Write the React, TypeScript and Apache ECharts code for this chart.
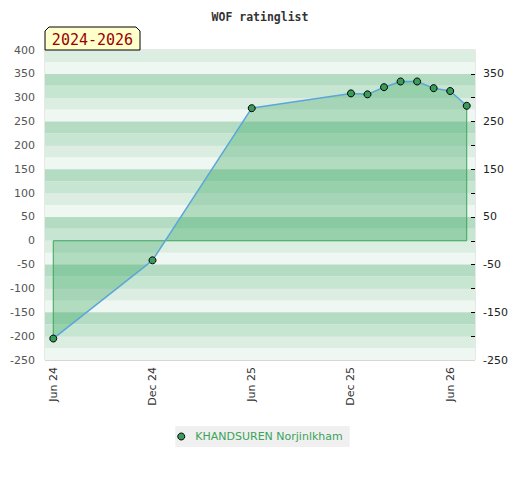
import React, { useEffect, useRef } from "react";
import * as echarts from "echarts";

const months = [
  "Jun 24", "Jul 24", "Aug 24", "Sep 24", "Oct 24", "Nov 24",
  "Dec 24", "Jan 25", "Feb 25", "Mar 25", "Apr 25", "May 25",
  "Jun 25", "Jul 25", "Aug 25", "Sep 25", "Oct 25", "Nov 25",
  "Dec 25", "Jan 26", "Feb 26", "Mar 26", "Apr 26", "May 26",
  "Jun 26", "Jul 26",
];
const pointMonths = [
  "Jun 24", "Dec 24", "Jun 25", "Dec 25", "Jan 26", "Feb 26",
  "Mar 26", "Apr 26", "May 26", "Jun 26", "Jul 26",
];
const ratings = [-205, -41, 278, 309, 307, 322, 334, 334, 320, 314, 283];
const playerName = "KHANDSUREN Norjinlkham";
const titleText = "WOF ratinglist";
const periodText = "2024-2026";
const rightTicks = [-200, -150, -100, -50, 0, 50, 100, 150, 200, 250, 300, 350];
const rightLabels = [-250, -150, -50, 50, 150, 250, 350];
const bandColors = ["#eef7f1", "#dcede2", "#c7e6d2", "#b3dcc3"];

export default function App() {
  const ref = useRef<HTMLDivElement>(null);
  useEffect(() => {
    if (!ref.current) return;
    const chart = echarts.init(ref.current, null, { renderer: "svg" });
    const pts = pointMonths.map((m, i) => [months.indexOf(m), ratings[i]]);
    const first = pts[0];
    const last = pts[pts.length - 1];
    const outline = [
      [first[0], first[1]],
      [first[0], 0],
      [last[0], 0],
      [last[0], last[1]],
    ];
    const font = "DejaVu Sans";
    chart.setOption({
      animation: false,
      backgroundColor: "#ffffff",
      title: {
        text: titleText,
        left: "center",
        top: 6,
        textStyle: {
          fontFamily: "DejaVu Sans Mono",
          fontWeight: "bold",
          fontSize: 11.5,
          color: "#333",
        },
      },
      grid: {
        left: 45,
        right: 45,
        top: 50,
        bottom: 120,
        show: true,
        borderColor: "#d0d0d0",
        borderWidth: 1,
        backgroundColor: "transparent",
      },
      legend: {
        data: [playerName],
        bottom: 33,
        left: "center",
        backgroundColor: "#f0f0f0",
        padding: [5, 7, 5, 2],
        icon: "circle",
        itemWidth: 18,
        itemHeight: 7,
        itemGap: 6,
        itemStyle: { borderColor: "#000", borderWidth: 1 },
        textStyle: { color: "#3aa35a", fontSize: 11, fontFamily: font },
      },
      xAxis: {
        type: "category",
        data: months,
        boundaryGap: true,
        axisLine: { show: false },
        axisTick: { show: false },
        splitLine: { show: false },
        axisLabel: {
          rotate: 90,
          interval: 5,
          margin: 7,
          color: "#333",
          fontSize: 11,
          fontFamily: font,
        },
      },
      yAxis: [
        {
          type: "value",
          min: -250,
          max: 400,
          interval: 50,
          position: "left",
          axisLine: { show: false },
          axisTick: { show: false },
          axisLabel: { color: "#555", fontSize: 11, fontFamily: font, margin: 10 },
          splitLine: { show: true, lineStyle: { color: "#d6d6d6", width: 1 } },
        },
        {
          type: "value",
          min: -250,
          max: 400,
          position: "right",
          axisLine: { show: false },
          axisTick: {
            show: true,
            inside: true,
            length: 4,
            lineStyle: { color: "#000" },
            customValues: rightTicks,
          },
          axisLabel: {
            color: "#222",
            fontSize: 11,
            fontFamily: font,
            margin: 8,
            customValues: rightLabels,
          },
          splitLine: { show: false },
        },
        {
          type: "value",
          min: -250,
          max: 400,
          interval: 25,
          position: "left",
          axisLine: { show: false },
          axisTick: { show: false },
          axisLabel: { show: false },
          splitLine: { show: false },
          splitArea: { show: true, areaStyle: { color: bandColors } },
          z: 0,
        },
      ],
      series: [
        {
          name: "outline",
          type: "line",
          yAxisIndex: 0,
          data: outline,
          symbol: "none",
          silent: true,
          lineStyle: { color: "#3aa35a", width: 1 },
          z: 2,
        },
        {
          name: playerName,
          type: "line",
          yAxisIndex: 0,
          data: pts,
          symbol: "circle",
          symbolSize: 7,
          itemStyle: { color: "#3a9c5b", borderColor: "#000", borderWidth: 1 },
          lineStyle: { color: "#5aa5da", width: 1.5 },
          areaStyle: { color: "rgba(62,169,99,0.5)" },
          z: 3,
        },
      ],
      graphic: [
        {
          type: "polygon",
          shape: {
            points: [
              [45, 50],
              [45, 31],
              [49, 27],
              [136, 27],
              [140, 31],
              [140, 50],
            ],
          },
          style: { fill: "#ffffcc", stroke: "#000", lineWidth: 1 },
          z: 10,
        },
        {
          type: "text",
          x: 92.5,
          y: 40,
          style: {
            text: periodText,
            fill: "#990000",
            font: "15px 'DejaVu Sans Mono'",
            textAlign: "center",
            textVerticalAlign: "middle",
          },
          z: 11,
        },
      ],
    });
    return () => chart.dispose();
  }, []);
  return (
    <div
      ref={ref}
      style={{ position: "absolute", left: 0, top: 0, width: 520, height: 480 }}
    />
  );
}
